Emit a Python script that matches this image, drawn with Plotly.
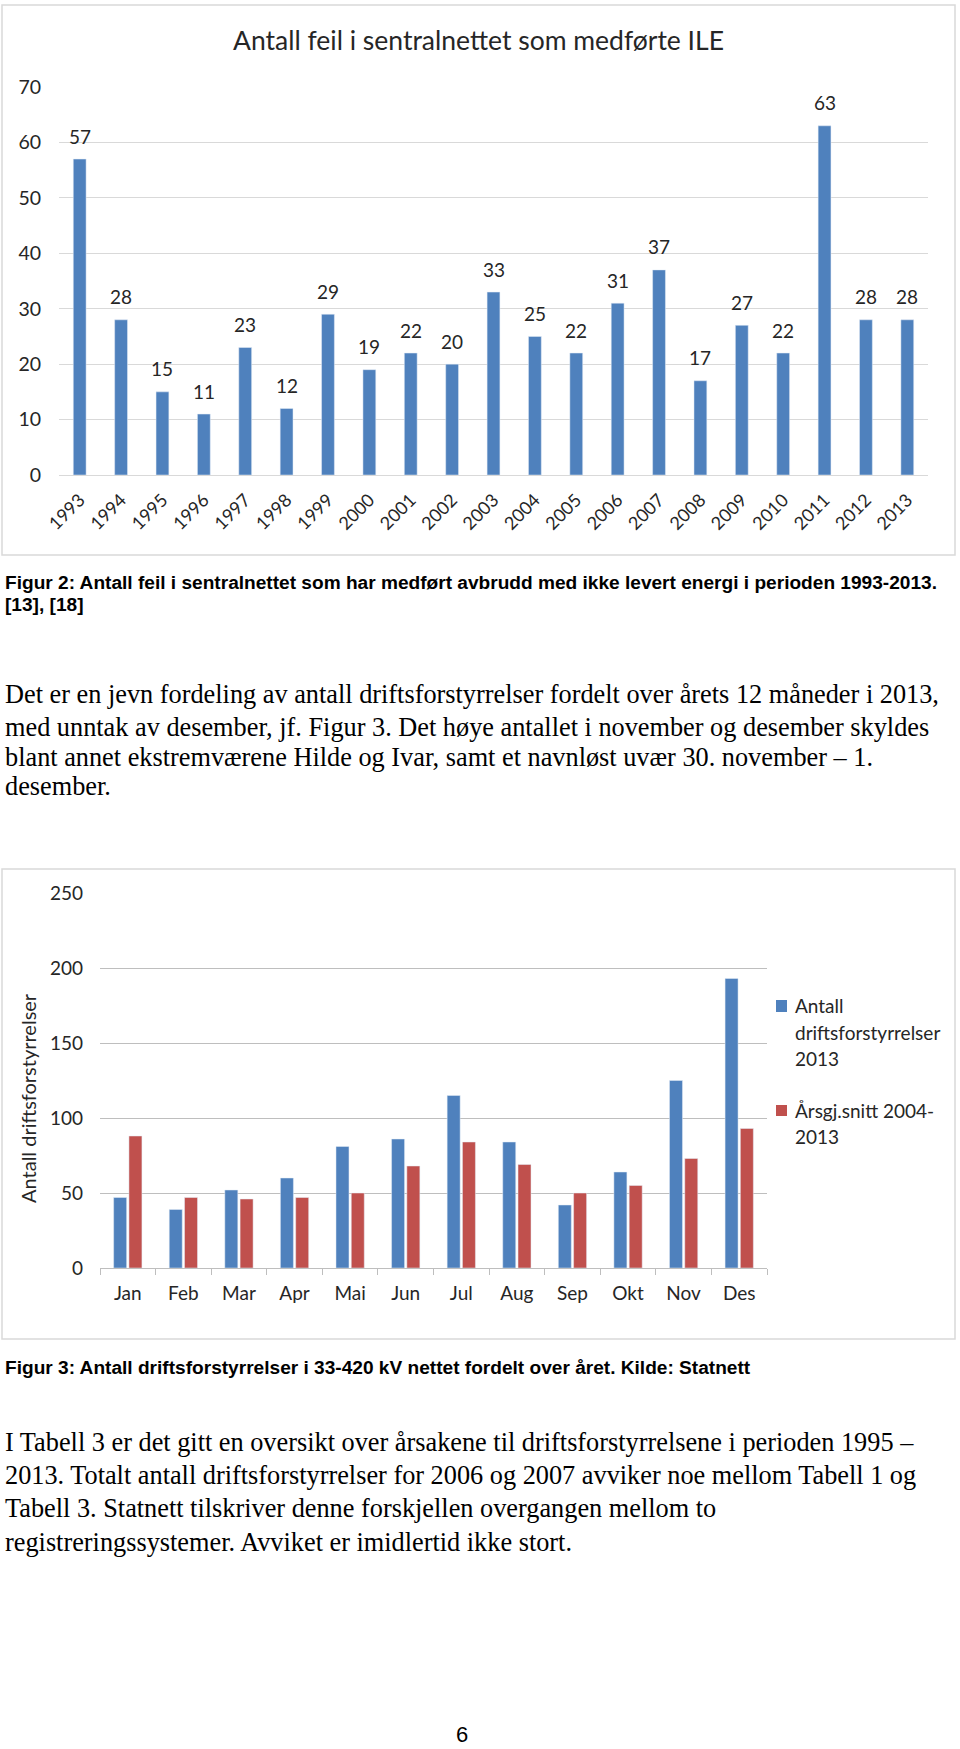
import plotly.graph_objects as go

W, H = 960, 1749


def px(x):
    return x / W


def py(y):
    return 1 - y / H


# ---------------- data ----------------
years = ["1993", "1994", "1995", "1996", "1997", "1998", "1999", "2000", "2001", "2002", "2003",
         "2004", "2005", "2006", "2007", "2008", "2009", "2010", "2011", "2012", "2013"]
feil_ile = [57, 28, 15, 11, 23, 12, 29, 19, 22, 20, 33, 25, 22, 31, 37, 17, 27, 22, 63, 28, 28]
y1_ticks = [0, 10, 20, 30, 40, 50, 60, 70]

months = ["Jan", "Feb", "Mar", "Apr", "Mai", "Jun", "Jul", "Aug", "Sep", "Okt", "Nov", "Des"]
antall_2013 = [47, 39, 52, 60, 81, 86, 115, 84, 42, 64, 125, 193]
snitt_2004_2013 = [88, 47, 46, 47, 50, 68, 84, 69, 50, 55, 73, 93]
y2_ticks = [0, 50, 100, 150, 200, 250]

title1 = "Antall feil i sentralnettet som medførte ILE"
legend_a = ["Antall", "driftsforstyrrelser", "2013"]
legend_b = ["Årsgj.snitt 2004-", "2013"]
ytitle2 = "Antall driftsforstyrrelser"

caption2 = ["Figur 2: Antall feil i sentralnettet som har medført avbrudd med ikke levert energi i perioden 1993-2013.",
            "[13], [18]"]
para1 = ["Det er en jevn fordeling av antall driftsforstyrrelser fordelt over årets 12 måneder i 2013,",
         "med unntak av desember, jf. Figur 3. Det høye antallet i november og desember skyldes",
         "blant annet ekstremværene Hilde og Ivar, samt et navnløst uvær 30. november – 1.",
         "desember."]
caption3 = "Figur 3: Antall driftsforstyrrelser i 33-420 kV nettet fordelt over året. Kilde: Statnett"
para2 = ["I Tabell 3 er det gitt en oversikt over årsakene til driftsforstyrrelsene i perioden 1995 –",
         "2013. Totalt antall driftsforstyrrelser for 2006 og 2007 avviker noe mellom Tabell 1 og",
         "Tabell 3. Statnett tilskriver denne forskjellen overgangen mellom to",
         "registreringssystemer. Avviket er imidlertid ikke stort."]
page_no = "6"

# ---------------- style ----------------
BLUE = "#4F81BD"
RED = "#C0504D"
CH_FONT = "Lato"
TXT = "#262626"
GRID1 = "#D9D9D9"
GRID2 = "#BEBEBE"

fig = go.Figure()

fig.add_trace(go.Bar(x=years, y=feil_ile, xaxis="x", yaxis="y", marker_color=BLUE,
                     width=0.31, showlegend=False))
fig.add_trace(go.Bar(x=months, y=antall_2013, xaxis="x2", yaxis="y2", marker_color=BLUE,
                     name=" ".join(legend_a), showlegend=False))
fig.add_trace(go.Bar(x=months, y=snitt_2004_2013, xaxis="x2", yaxis="y2", marker_color=RED,
                     name=" ".join(legend_b), showlegend=False))

ann = []
# data labels chart 1 (category index positions on the category axis)
for i, v in enumerate(feil_ile):
    ann.append(dict(x=i, y=v, xref="x", yref="y", text=str(v), showarrow=False,
                    yanchor="middle", yshift=23, font=dict(family=CH_FONT, size=19, color=TXT)))
# chart titles
ann.append(dict(x=px(478), y=py(40), xref="paper", yref="paper", text=title1, showarrow=False,
                xanchor="center", yanchor="middle", font=dict(family=CH_FONT, size=26.5, color=TXT)))
ann.append(dict(x=px(28), y=py(1098), xref="paper", yref="paper", text=ytitle2, showarrow=False,
                textangle=-90, xanchor="center", yanchor="middle",
                font=dict(family=CH_FONT, size=20, color=TXT)))
# manual legend for chart 2
leg_font = dict(family=CH_FONT, size=19, color=TXT)
for txt, yy in zip(legend_a, [1005, 1032, 1058]):
    ann.append(dict(x=px(793), y=py(yy), xref="paper", yref="paper", text=txt, showarrow=False,
                    xanchor="left", yanchor="middle", font=leg_font))
for txt, yy in zip(legend_b, [1110, 1136]):
    ann.append(dict(x=px(793), y=py(yy), xref="paper", yref="paper", text=txt, showarrow=False,
                    xanchor="left", yanchor="middle", font=leg_font))
# captions and body text
bold = dict(family="Liberation Sans", size=19.1, color="#000000")
serif = dict(family="Liberation Serif", size=26.3, color="#000000")
for txt, yy in zip(caption2, [582, 604]):
    ann.append(dict(x=px(3), y=py(yy), xref="paper", yref="paper", text="<b>" + txt + "</b>",
                    showarrow=False, xanchor="left", yanchor="middle", font=bold))
for txt, yy in zip(para1, [695, 727, 757, 786]):
    ann.append(dict(x=px(3), y=py(yy), xref="paper", yref="paper", text=txt,
                    showarrow=False, xanchor="left", yanchor="middle", font=serif))
ann.append(dict(x=px(3), y=py(1367), xref="paper", yref="paper", text="<b>" + caption3 + "</b>",
                showarrow=False, xanchor="left", yanchor="middle", font=bold))
for txt, yy in zip(para2, [1442, 1475, 1508, 1542]):
    ann.append(dict(x=px(3), y=py(yy), xref="paper", yref="paper", text=txt,
                    showarrow=False, xanchor="left", yanchor="middle", font=serif))
ann.append(dict(x=px(462), y=py(1749), xref="paper", yref="paper", text=page_no, showarrow=False,
                xanchor="center", yanchor="bottom",
                font=dict(family="Liberation Sans", size=22, color="#000000")))

shapes = [
    dict(type="rect", xref="paper", yref="paper", x0=px(2), x1=px(955), y0=py(555), y1=py(5),
         line=dict(color="#D9D9D9", width=1.5), layer="below"),
    dict(type="rect", xref="paper", yref="paper", x0=px(2), x1=px(955), y0=py(1339), y1=py(869),
         line=dict(color="#D9D9D9", width=1.5), layer="below"),
    # legend keys
    dict(type="rect", xref="paper", yref="paper", x0=px(776), x1=px(787), y0=py(1012), y1=py(1000),
         line=dict(width=0), fillcolor=BLUE),
    dict(type="rect", xref="paper", yref="paper", x0=px(776), x1=px(787), y0=py(1116), y1=py(1105),
         line=dict(width=0), fillcolor=RED),
]

fig.update_layout(
    width=W, height=H, autosize=False,
    margin=dict(l=0, r=0, t=0, b=0, autoexpand=False),
    paper_bgcolor="white", plot_bgcolor="white",
    bargap=0.45, bargroupgap=0.15,
    annotations=ann, shapes=shapes,
    showlegend=False,
    xaxis=dict(domain=[px(59), px(928)], anchor="y", type="category", tickangle=-45,
               categoryorder="array", categoryarray=years, range=[-0.5, len(years) - 0.5],
               showgrid=False, ticks="", showline=False, ticklabelstandoff=10, automargin=False,
               tickfont=dict(family=CH_FONT, size=18, color=TXT)),
    yaxis=dict(domain=[py(475), py(87)], anchor="x", range=[0, 70], tickvals=y1_ticks,
               gridcolor=GRID1, gridwidth=1.3, zeroline=True, zerolinecolor=GRID1, zerolinewidth=1.3,
               ticks="", ticklabelstandoff=17, automargin=False,
               tickfont=dict(family=CH_FONT, size=19.5, color=TXT)),
    xaxis2=dict(domain=[px(100), px(767)], anchor="y2", type="category", showgrid=False,
                categoryorder="array", categoryarray=months, range=[-0.5, len(months) - 0.5],
                showline=True, linecolor=GRID2, linewidth=1.3, ticks="outside", tickson="boundaries",
                ticklen=6, tickcolor=GRID2, tickwidth=1.3, ticklabelstandoff=8, automargin=False,
                tickfont=dict(family=CH_FONT, size=19, color=TXT)),
    yaxis2=dict(domain=[py(1268), py(893)], anchor="x2", range=[0, 250], tickvals=y2_ticks,
                gridcolor=GRID2, gridwidth=1.3, zeroline=False, ticks="", ticklabelstandoff=16,
                automargin=False, tickfont=dict(family=CH_FONT, size=19, color=TXT)),
)

fig.write_html("out.html", config={"displayModeBar": False},
               post_script="document.body.style.margin='0px';")
